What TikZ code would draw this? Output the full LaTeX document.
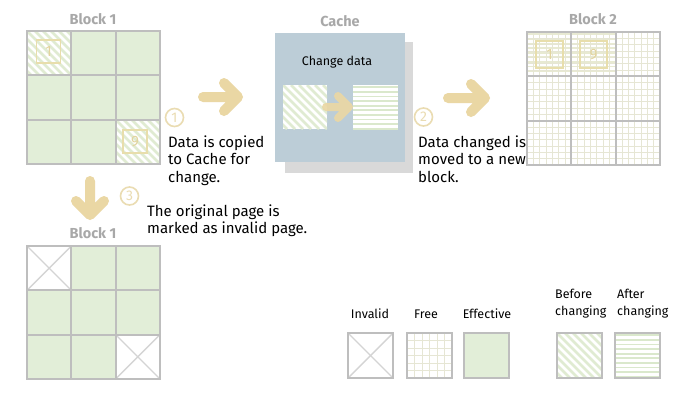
\documentclass[tikz,border=0pt]{standalone}
\usepackage{fontspec}
\setmainfont{Fira Sans}
\definecolor{effc}{RGB}{226,238,216}
\definecolor{gridc}{RGB}{190,190,190}
\definecolor{tanc}{RGB}{234,215,164}
\definecolor{boxc}{RGB}{232,222,172}
\definecolor{digc}{RGB}{226,212,158}
\definecolor{hatchc}{RGB}{224,235,210}
\definecolor{stripec}{RGB}{218,232,204}
\definecolor{stripe2c}{RGB}{232,234,210}
\definecolor{freec}{RGB}{230,230,212}
\definecolor{cachec}{RGB}{188,205,215}
\definecolor{shadowc}{RGB}{217,217,217}
\definecolor{titlec}{RGB}{168,168,168}
\definecolor{numc}{RGB}{234,220,178}
\definecolor{xc}{RGB}{212,212,212}
\def\cs{44.33}
\newcommand\diagcell[3]{%
  \begin{scope}
  \clip (#1,#2) rectangle ++(#3,#3);
  \fill[white] (#1,#2) rectangle ++(#3,#3);
  \foreach \k in {-7,...,7} \draw[hatchc,line width=2.6pt] ({#1+\k*8},#2) -- ++(#3,#3);
  \end{scope}}
\newcommand\stripecell[4]{%
  \begin{scope}
  \clip (#1,#2) rectangle ++(#3,#3);
  \fill[white] (#1,#2) rectangle ++(#3,#3);
  \foreach \k in {0,...,10} \draw[#4,line width=1.8pt] (#1,{#2+2.2+\k*4.6}) -- ++(#3,0);
  \end{scope}}
\newcommand\finegrid[5]{%
  \foreach \k in {1,...,#5} {
    \draw[freec,line width=0.9pt] ({#1+\k*#3/(#5+1)},#2) -- ++(0,#4);
    \draw[freec,line width=0.9pt] (#1,{#2+\k*#4/(#5+1)}) -- ++(#3,0);
  }}
\newcommand\blockgrid[2]{%
  \draw[gridl] (#1,#2) rectangle ++(133,133);
  \foreach \i in {1,2} {
    \draw[gridl] ({#1+\i*\cs},#2) -- ++(0,133);
    \draw[gridl] (#1,{#2+\i*\cs}) -- ++(133,0);
  }}
\newcommand\xcell[3]{%
  \fill[white] (#1,#2) rectangle ++(#3,#3);
  \draw[xc,line width=1.4pt] (#1,#2) -- ++(#3,#3);
  \draw[xc,line width=1.4pt] ({#1+#3},#2) -- ++(-#3,#3);}
\begin{document}
\begin{tikzpicture}[x=1pt,y=-1pt,
  gridl/.style={gridc,line width=2.2pt},
  bigarrow/.style={tanc,line width=10pt,line cap=round,line join=round},
  numbox/.style={draw=boxc,line width=1.5pt,text=digc,inner sep=0pt,font=\fontsize{15}{15}\selectfont},
  circnum/.style={circle,draw=numc,line width=1.6pt,minimum size=18pt,inner sep=0pt,text=numc,font=\fontsize{14}{14}\selectfont},
  title/.style={text=titlec,font=\fontsize{14.5}{16}\selectfont\bfseries,anchor=base},
  txt/.style={anchor=base west,inner sep=0pt,font=\fontsize{15}{17.5}\selectfont},
  leg/.style={anchor=base,inner sep=0pt,font=\fontsize{12.5}{15}\selectfont},
  legl/.style={anchor=base west,inner sep=0pt,font=\fontsize{12.5}{15}\selectfont},
  legbox/.style={gridc,line width=2pt}]
\useasboundingbox (0,0) rectangle (684,400);
\fill[white] (0,0) rectangle (684,400);

% ---------- Block 1 (top) ----------
\node[title] (t1) at (93,24) {Block 1};
\fill[effc] (27,31) rectangle ++(133,133);
\diagcell{27}{31}{\cs}
\diagcell{115.66}{119.66}{\cs}
\blockgrid{27}{31}
\node[numbox,minimum width=24pt,minimum height=23pt] (b1) at (48.5,51.5) {1};
\node[numbox,minimum width=24pt,minimum height=23pt] (b9) at (135,141.5) {9};

% ---------- Cache ----------
\node[title] (tc) at (340,26) {Cache};
\fill[shadowc] (285,42) rectangle (413,173);
\fill[cachec] (275,33) rectangle (405,162);
\node[anchor=base,inner sep=0pt,font=\fontsize{12.5}{14}\selectfont] (cd) at (337,65) {Change data};
\diagcell{283}{85}{44}
\stripecell{353}{85}{45}{stripec}
\coordinate (ca1) at (326,107);
\coordinate (ca2) at (349,107);
\draw[tanc,line width=8pt,line cap=round,line join=round,opacity=0.92] (ca1) -- (ca2) (ca2) ++(-11,-11) -- (ca2) -- ++(-11,11);

% ---------- Block 2 ----------
\node[title] (t2) at (593,24) {Block 2};
\stripecell{527}{32}{\cs}{stripe2c}
\stripecell{571.33}{32}{\cs}{stripe2c}
\finegrid{527}{32}{133}{133}{20}
\blockgrid{527}{32}
\node[numbox,minimum width=27pt,minimum height=27pt] (c1) at (549.5,54.5) {1};
\node[numbox,minimum width=27pt,minimum height=27pt] (c9) at (593.5,54.5) {9};

% ---------- big arrows ----------
\coordinate (a1s) at (203,97); \coordinate (a1e) at (238,97);
\draw[bigarrow] (a1s) -- (a1e) (a1e) ++(-14,-14) -- (a1e) -- ++(-14,14);
\coordinate (a2s) at (448,98); \coordinate (a2e) at (485,98);
\draw[bigarrow] (a2s) -- (a2e) (a2e) ++(-14,-14) -- (a2e) -- ++(-14,14);
\coordinate (a3s) at (90,181); \coordinate (a3e) at (90,215);
\draw[bigarrow] (a3s) -- (a3e) (a3e) ++(-14,-14) -- (a3e) -- ++(14,-14);

% ---------- step numbers and texts ----------
\node[circnum] (n1) at (174.5,117.5) {1};
\node[circnum] (n2) at (423.5,117) {2};
\node[circnum] (n3) at (129.5,196) {3};
\node[txt] (s1a) at (168,147) {Data is copied};
\node[txt] (s1b) at (168,164.5) {to Cache for};
\node[txt] (s1c) at (168,182) {change.};
\node[txt] (s2a) at (418,147) {Data changed is};
\node[txt] (s2b) at (418,164.5) {moved to a new};
\node[txt] (s2c) at (418,182) {block.};
\node[txt] (s3a) at (147,216) {The original page is};
\node[txt] (s3b) at (147,233.5) {marked as invalid page.};

% ---------- Block 1 (bottom) ----------
\node[title] (t3) at (93,238) {Block 1};
\fill[effc] (27,246) rectangle ++(133,133);
\xcell{27}{246}{\cs}
\xcell{115.66}{334.66}{\cs}
\blockgrid{27}{246}

% ---------- legend ----------
\node[leg] (l1) at (370,318) {Invalid};
\node[leg] (l2) at (426,318) {Free};
\node[leg] (l3) at (487,318) {Effective};
\node[legl] (l4a) at (555,298) {Before};
\node[legl] (l4b) at (555,315) {changing};
\node[legl] (l5a) at (617,298) {After};
\node[legl] (l5b) at (617,315) {changing};
\xcell{348}{333}{45}
\draw[legbox] (348,333) rectangle ++(45,45);
\fill[white] (407,333) rectangle ++(45,45);
\finegrid{407}{333}{45}{45}{5}
\draw[legbox] (407,333) rectangle ++(45,45);
\fill[effc] (464,333) rectangle ++(45,45);
\draw[legbox] (464,333) rectangle ++(45,45);
\diagcell{557}{333}{45}
\draw[legbox] (557,333) rectangle ++(45,45);
\stripecell{615}{333}{45}{stripec}
\draw[legbox] (615,333) rectangle ++(45,45);
\end{tikzpicture}
\end{document}
